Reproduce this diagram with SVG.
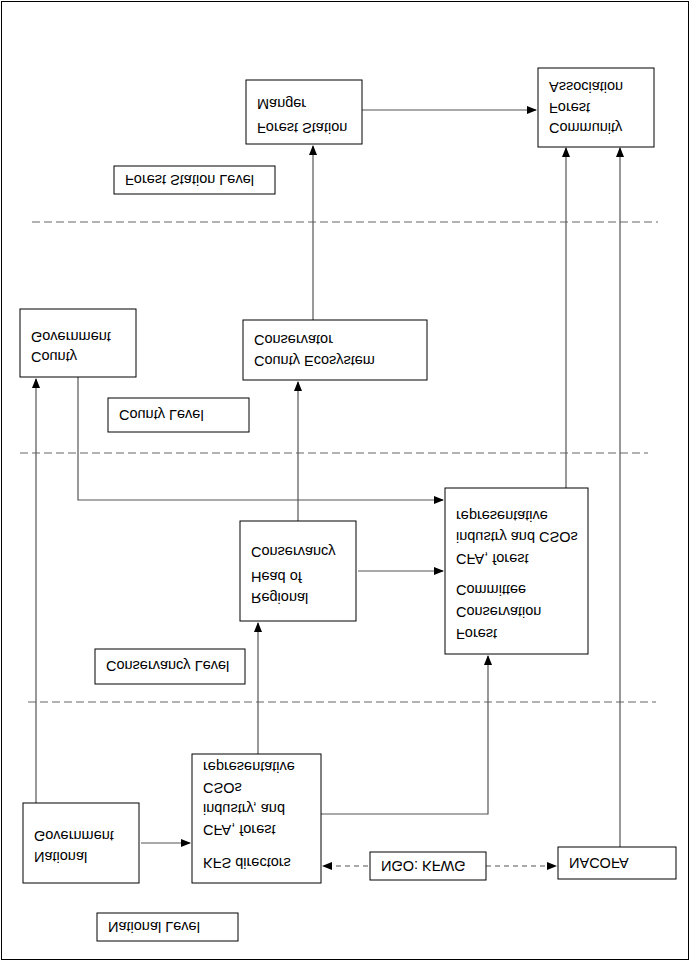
<svg xmlns="http://www.w3.org/2000/svg" width="692" height="962" viewBox="0 0 692 962">
<defs>
<marker id="ah" markerWidth="10" markerHeight="8" refX="9" refY="4" orient="auto" markerUnits="userSpaceOnUse"><path d="M0,0 L10,4 L0,8 z" fill="#000"/></marker>
<style>
.b{fill:#fff;stroke:#000;stroke-width:1}
.t{font-family:"Liberation Sans",Arial,sans-serif;font-size:14.5px;fill:#000;dominant-baseline:central}
.c{fill:none;stroke:#555;stroke-width:1.2;marker-end:url(#ah)}
.d{fill:none;stroke:#555;stroke-width:1.2;stroke-dasharray:5,4;marker-end:url(#ah)}
.s{fill:none;stroke:#666;stroke-width:1.2;stroke-dasharray:8,4}
</style>
</defs>
<rect x="0" y="0" width="692" height="962" fill="#fff"/>
<rect x="1.5" y="1.5" width="687" height="958" fill="none" stroke="#000"/>
<g id="separators">
<line class="s" x1="32" y1="222" x2="658" y2="222"/>
<line class="s" x1="20" y1="453" x2="648" y2="453"/>
<line class="s" x1="28" y1="702" x2="656" y2="702"/>
</g>
<g id="connectors">
<path class="c" d="M362,110 H536"/>
<path class="c" d="M313,320 V146"/>
<path class="c" d="M566,488 V148"/>
<path class="c" d="M620,847 V148"/>
<path class="c" d="M78,377 V500 H443"/>
<path class="c" d="M36,803 V379"/>
<path class="c" d="M298,521 V382"/>
<path class="c" d="M358,571 H443"/>
<path class="c" d="M258,754 V623"/>
<path class="c" d="M321,814 H488 V656"/>
<path class="c" d="M141,843 H190"/>
<path class="d" d="M368,866 H323"/>
<path class="d" d="M486,866 H556"/>
</g>
<g id="fsm"><rect class="b" x="246" y="80" width="116" height="64"/>
<text class="t" transform="translate(257,104) scale(1,-1)">Manger</text>
<text class="t" transform="translate(257,128) scale(1,-1)">Forest Station</text></g>
<g id="cfa"><rect class="b" x="538" y="68" width="116" height="79"/>
<text class="t" transform="translate(549,87) scale(1,-1)">Association</text>
<text class="t" transform="translate(549,108) scale(1,-1)">Forest</text>
<text class="t" transform="translate(549,128) scale(1,-1)">Community</text></g>
<g id="fslevel"><rect class="b" x="114" y="166" width="161" height="28"/>
<text class="t" transform="translate(125,180) scale(1,-1)">Forest Station Level</text></g>
<g id="countygov"><rect class="b" x="20" y="309" width="116" height="68"/>
<text class="t" transform="translate(31,337) scale(1,-1)">Government</text>
<text class="t" transform="translate(31,357) scale(1,-1)">County</text></g>
<g id="ecocons"><rect class="b" x="243" y="320" width="184" height="60"/>
<text class="t" transform="translate(254,340) scale(1,-1)">Conservator</text>
<text class="t" transform="translate(254,361) scale(1,-1)">County Ecosystem</text></g>
<g id="countylevel"><rect class="b" x="108" y="398" width="141" height="34"/>
<text class="t" transform="translate(119,415) scale(1,-1)">County Level</text></g>
<g id="regional"><rect class="b" x="240" y="521" width="116" height="100"/>
<text class="t" transform="translate(251,552) scale(1,-1)">Conservancy</text>
<text class="t" transform="translate(251,577) scale(1,-1)">Head of</text>
<text class="t" transform="translate(251,598) scale(1,-1)">Regional</text></g>
<g id="fcc"><rect class="b" x="445" y="488" width="143" height="166"/>
<text class="t" transform="translate(456,516) scale(1,-1)">representative</text>
<text class="t" transform="translate(456,537) scale(1,-1)">industry and CSOs</text>
<text class="t" transform="translate(456,559) scale(1,-1)">CFA, forest</text>
<text class="t" transform="translate(456,590) scale(1,-1)">Committee</text>
<text class="t" transform="translate(456,612) scale(1,-1)">Conservation</text>
<text class="t" transform="translate(456,634) scale(1,-1)">Forest</text></g>
<g id="conslevel"><rect class="b" x="95" y="649" width="150" height="35"/>
<text class="t" transform="translate(106,666) scale(1,-1)">Conservancy Level</text></g>
<g id="kfs"><rect class="b" x="192" y="754" width="129" height="129"/>
<text class="t" transform="translate(203,767) scale(1,-1)">representative</text>
<text class="t" transform="translate(203,788) scale(1,-1)">CSOs</text>
<text class="t" transform="translate(203,809) scale(1,-1)">industry, and</text>
<text class="t" transform="translate(203,830) scale(1,-1)">CFA, forest</text>
<text class="t" transform="translate(203,863) scale(1,-1)">KFS directors</text></g>
<g id="natgov"><rect class="b" x="23" y="803" width="116" height="80"/>
<text class="t" transform="translate(34,836) scale(1,-1)">Government</text>
<text class="t" transform="translate(34,857) scale(1,-1)">National</text></g>
<g id="ngo"><rect class="b" x="370" y="852" width="116" height="28"/>
<text class="t" transform="translate(381,866) scale(1,-1)">NGO: KFWG</text></g>
<g id="nacofa"><rect class="b" x="558" y="847" width="118" height="32"/>
<text class="t" transform="translate(569,863) scale(1,-1)">NACOFA</text></g>
<g id="natlevel"><rect class="b" x="97" y="913" width="141" height="28"/>
<text class="t" transform="translate(108,927) scale(1,-1)">National Level</text></g>
</svg>
